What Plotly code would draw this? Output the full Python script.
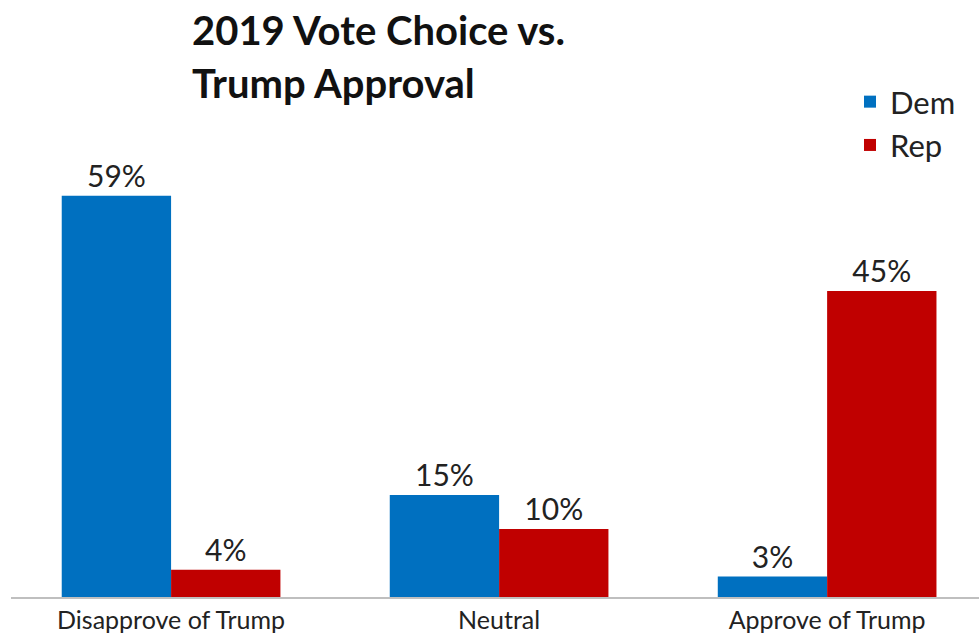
import plotly.graph_objects as go

# Survey results: share of respondents by Trump approval and 2019 vote choice
categories = ["Disapprove of Trump", "Neutral", "Approve of Trump"]
dem_values = [59, 15, 3]
rep_values = [4, 10, 45]
series_names = ["Dem", "Rep"]
title_lines = ["2019 Vote Choice vs.", "Trump Approval"]

DEM_COLOR = "#0070C0"
REP_COLOR = "#C00000"
FONT = "Lato, 'Open Sans', sans-serif"

W, H = 979, 636
MARGIN_T, MARGIN_B, MARGIN_L = 60, 39, 11
PX_PER_UNIT = 6.8
plot_h = H - MARGIN_T - MARGIN_B

fig = go.Figure()

for name, vals, color in [(series_names[0], dem_values, DEM_COLOR),
                          (series_names[1], rep_values, REP_COLOR)]:
    fig.add_trace(go.Bar(
        name=name,
        x=categories,
        y=vals,
        marker=dict(color=color, line=dict(width=0)),
        text=[f"{v}%" for v in vals],
        textposition="outside",
        textfont=dict(size=30, color="#222222", family=FONT),
        cliponaxis=False,
    ))

# Two-line bold heading, top-left
for i, line in enumerate(title_lines):
    fig.add_annotation(
        text=f"<b>{line}</b>",
        xref="paper", yref="paper",
        x=(190 - MARGIN_L) / (W - MARGIN_L), xanchor="left",
        y=(H - MARGIN_B - (4 + 53 * i)) / plot_h, yanchor="top",
        showarrow=False,
        font=dict(size=40, color="#111111", family=FONT),
    )

fig.update_layout(
    width=W,
    height=H,
    barmode="group",
    bargap=1 / 3,
    bargroupgap=0,
    paper_bgcolor="white",
    plot_bgcolor="white",
    margin=dict(l=MARGIN_L, r=0, t=MARGIN_T, b=MARGIN_B),
    font=dict(family=FONT, color="#222222"),
    legend=dict(
        xref="paper", yref="paper",
        x=(850 - MARGIN_L) / (W - MARGIN_L), xanchor="left",
        y=(H - MARGIN_B - 75) / plot_h, yanchor="top",
        font=dict(size=31, color="#222222"),
        bgcolor="rgba(0,0,0,0)",
        tracegroupgap=0,
        itemwidth=30,
    ),
    showlegend=True,
)

fig.update_xaxes(
    type="category",
    range=[-0.488, 2.463],
    automargin=False,
    showline=True,
    linecolor="#BFBFBF",
    linewidth=2,
    showgrid=False,
    ticks="",
    tickfont=dict(size=25, color="#222222", family=FONT),
    ticklabelstandoff=0,
)
fig.update_yaxes(
    range=[0, plot_h / PX_PER_UNIT],
    visible=False,
    showgrid=False,
    zeroline=False,
    automargin=False,
)

fig.write_html("out.html")
